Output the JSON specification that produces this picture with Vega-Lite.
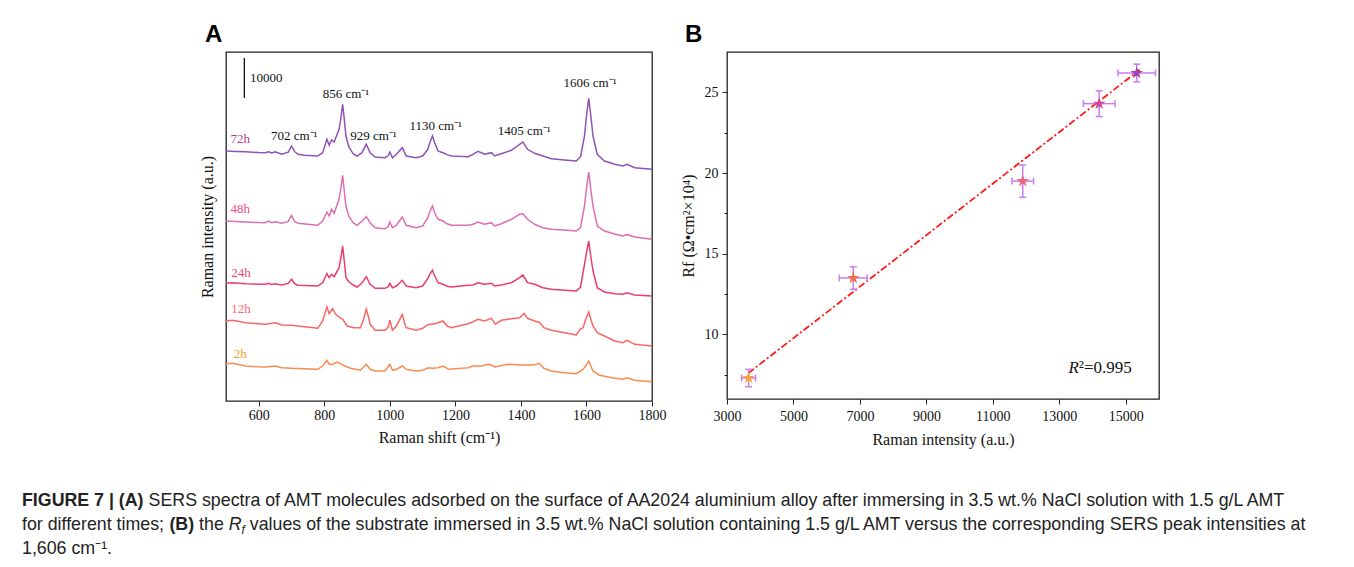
{
  "$schema": "https://vega.github.io/schema/vega-lite/v6.json",
  "padding": {"left": 22, "top": 22, "right": 0, "bottom": 0},
  "background": "white",
  "spacing": 41,
  "config": {
    "view": {"stroke": null},
    "font": "Liberation Serif",
    "axis": {"labelFont": "Liberation Serif", "titleFont": "Liberation Serif", "labelColor": "#111", "titleColor": "#111", "titleFontWeight": "normal", "domainColor": "#222", "tickColor": "#222", "grid": false, "labelFontSize": 14, "titleFontSize": 16, "labelFlush": false}
  },
  "datasets": {
    "spectra": [
      {"t":"72h","x":500,"y":62500},{"t":"72h","x":530,"y":62400},{"t":"72h","x":560,"y":62325},{"t":"72h","x":600,"y":62100},{"t":"72h","x":620,"y":62075},{"t":"72h","x":630,"y":62325},{"t":"72h","x":640,"y":62000},{"t":"72h","x":650,"y":62325},{"t":"72h","x":670,"y":61675},{"t":"72h","x":690,"y":62200},{"t":"72h","x":700,"y":63750},{"t":"72h","x":710,"y":62300},{"t":"72h","x":720,"y":61675},{"t":"72h","x":740,"y":61425},{"t":"72h","x":780,"y":61250},{"t":"72h","x":795,"y":62075},{"t":"72h","x":808,"y":65425},{"t":"72h","x":815,"y":63925},{"t":"72h","x":822,"y":65250},{"t":"72h","x":830,"y":64750},{"t":"72h","x":845,"y":67925},{"t":"72h","x":851,"y":71000},{"t":"72h","x":856,"y":74175},{"t":"72h","x":861,"y":70500},{"t":"72h","x":866,"y":66250},{"t":"72h","x":875,"y":63500},{"t":"72h","x":888,"y":61800},{"t":"72h","x":900,"y":61250},{"t":"72h","x":915,"y":62075},{"t":"72h","x":928,"y":64175},{"t":"72h","x":940,"y":62075},{"t":"72h","x":955,"y":61000},{"t":"72h","x":985,"y":60825},{"t":"72h","x":995,"y":61300},{"t":"72h","x":1000,"y":62250},{"t":"72h","x":1008,"y":60825},{"t":"72h","x":1020,"y":61675},{"t":"72h","x":1038,"y":63325},{"t":"72h","x":1050,"y":61250},{"t":"72h","x":1080,"y":60825},{"t":"72h","x":1100,"y":61250},{"t":"72h","x":1115,"y":62800},{"t":"72h","x":1124,"y":65000},{"t":"72h","x":1130,"y":66250},{"t":"72h","x":1137,"y":64500},{"t":"72h","x":1147,"y":62500},{"t":"72h","x":1162,"y":62075},{"t":"72h","x":1175,"y":61600},{"t":"72h","x":1188,"y":61250},{"t":"72h","x":1239,"y":61075},{"t":"72h","x":1254,"y":61675},{"t":"72h","x":1269,"y":62425},{"t":"72h","x":1289,"y":61675},{"t":"72h","x":1310,"y":62075},{"t":"72h","x":1320,"y":61250},{"t":"72h","x":1340,"y":61825},{"t":"72h","x":1371,"y":62675},{"t":"72h","x":1396,"y":64175},{"t":"72h","x":1406,"y":64750},{"t":"72h","x":1420,"y":62925},{"t":"72h","x":1442,"y":61925},{"t":"72h","x":1467,"y":61250},{"t":"72h","x":1493,"y":60575},{"t":"72h","x":1533,"y":60250},{"t":"72h","x":1569,"y":60000},{"t":"72h","x":1582,"y":61075},{"t":"72h","x":1594,"y":66250},{"t":"72h","x":1601,"y":72000},{"t":"72h","x":1607,"y":75675},{"t":"72h","x":1613,"y":71500},{"t":"72h","x":1620,"y":66250},{"t":"72h","x":1633,"y":61675},{"t":"72h","x":1655,"y":60000},{"t":"72h","x":1686,"y":59175},{"t":"72h","x":1711,"y":58750},{"t":"72h","x":1724,"y":59175},{"t":"72h","x":1747,"y":58325},{"t":"72h","x":1800,"y":57925},

      {"t":"48h","x":500,"y":45000},{"t":"48h","x":530,"y":44900},{"t":"48h","x":560,"y":44750},{"t":"48h","x":600,"y":44600},{"t":"48h","x":620,"y":44575},{"t":"48h","x":630,"y":45000},{"t":"48h","x":640,"y":44600},{"t":"48h","x":650,"y":44825},{"t":"48h","x":670,"y":44425},{"t":"48h","x":690,"y":44900},{"t":"48h","x":700,"y":46425},{"t":"48h","x":710,"y":44800},{"t":"48h","x":720,"y":44425},{"t":"48h","x":780,"y":43925},{"t":"48h","x":795,"y":45000},{"t":"48h","x":808,"y":47250},{"t":"48h","x":815,"y":46250},{"t":"48h","x":822,"y":47925},{"t":"48h","x":830,"y":46925},{"t":"48h","x":845,"y":50425},{"t":"48h","x":851,"y":53500},{"t":"48h","x":856,"y":56425},{"t":"48h","x":861,"y":52500},{"t":"48h","x":866,"y":48750},{"t":"48h","x":875,"y":46200},{"t":"48h","x":888,"y":44500},{"t":"48h","x":900,"y":43925},{"t":"48h","x":915,"y":45000},{"t":"48h","x":928,"y":46075},{"t":"48h","x":940,"y":44575},{"t":"48h","x":955,"y":43325},{"t":"48h","x":985,"y":43075},{"t":"48h","x":995,"y":43600},{"t":"48h","x":1000,"y":44750},{"t":"48h","x":1008,"y":43325},{"t":"48h","x":1020,"y":43925},{"t":"48h","x":1038,"y":46000},{"t":"48h","x":1050,"y":43925},{"t":"48h","x":1080,"y":43325},{"t":"48h","x":1100,"y":43750},{"t":"48h","x":1115,"y":45700},{"t":"48h","x":1124,"y":47800},{"t":"48h","x":1130,"y":48750},{"t":"48h","x":1137,"y":47000},{"t":"48h","x":1147,"y":45425},{"t":"48h","x":1162,"y":45000},{"t":"48h","x":1175,"y":44300},{"t":"48h","x":1188,"y":43925},{"t":"48h","x":1239,"y":43925},{"t":"48h","x":1254,"y":44175},{"t":"48h","x":1269,"y":44750},{"t":"48h","x":1289,"y":44175},{"t":"48h","x":1310,"y":44575},{"t":"48h","x":1320,"y":43750},{"t":"48h","x":1340,"y":44325},{"t":"48h","x":1371,"y":45425},{"t":"48h","x":1396,"y":46675},{"t":"48h","x":1406,"y":46825},{"t":"48h","x":1420,"y":45425},{"t":"48h","x":1442,"y":44175},{"t":"48h","x":1467,"y":43325},{"t":"48h","x":1493,"y":42925},{"t":"48h","x":1533,"y":42750},{"t":"48h","x":1569,"y":42500},{"t":"48h","x":1582,"y":43325},{"t":"48h","x":1594,"y":48750},{"t":"48h","x":1601,"y":53750},{"t":"48h","x":1607,"y":57250},{"t":"48h","x":1613,"y":53000},{"t":"48h","x":1620,"y":48750},{"t":"48h","x":1633,"y":43750},{"t":"48h","x":1655,"y":42500},{"t":"48h","x":1686,"y":41750},{"t":"48h","x":1711,"y":41250},{"t":"48h","x":1724,"y":41625},{"t":"48h","x":1747,"y":41000},{"t":"48h","x":1800,"y":40425},

      {"t":"24h","x":500,"y":29425},{"t":"24h","x":520,"y":29575},{"t":"24h","x":560,"y":29325},{"t":"24h","x":600,"y":29200},{"t":"24h","x":620,"y":29175},{"t":"24h","x":630,"y":29425},{"t":"24h","x":640,"y":29150},{"t":"24h","x":650,"y":29325},{"t":"24h","x":670,"y":29000},{"t":"24h","x":690,"y":29400},{"t":"24h","x":700,"y":30425},{"t":"24h","x":710,"y":29300},{"t":"24h","x":720,"y":28925},{"t":"24h","x":780,"y":28750},{"t":"24h","x":795,"y":29575},{"t":"24h","x":808,"y":31825},{"t":"24h","x":815,"y":30825},{"t":"24h","x":822,"y":31675},{"t":"24h","x":830,"y":31075},{"t":"24h","x":845,"y":33325},{"t":"24h","x":851,"y":36000},{"t":"24h","x":856,"y":38750},{"t":"24h","x":861,"y":35000},{"t":"24h","x":866,"y":30825},{"t":"24h","x":875,"y":29800},{"t":"24h","x":888,"y":29000},{"t":"24h","x":900,"y":28500},{"t":"24h","x":915,"y":29500},{"t":"24h","x":928,"y":31075},{"t":"24h","x":940,"y":29175},{"t":"24h","x":955,"y":28175},{"t":"24h","x":985,"y":28175},{"t":"24h","x":995,"y":28600},{"t":"24h","x":1000,"y":29425},{"t":"24h","x":1008,"y":28325},{"t":"24h","x":1020,"y":28750},{"t":"24h","x":1038,"y":30175},{"t":"24h","x":1050,"y":28750},{"t":"24h","x":1080,"y":28325},{"t":"24h","x":1100,"y":28750},{"t":"24h","x":1115,"y":30500},{"t":"24h","x":1124,"y":32000},{"t":"24h","x":1130,"y":32675},{"t":"24h","x":1137,"y":31300},{"t":"24h","x":1147,"y":29575},{"t":"24h","x":1162,"y":29175},{"t":"24h","x":1175,"y":28700},{"t":"24h","x":1188,"y":28500},{"t":"24h","x":1239,"y":28925},{"t":"24h","x":1254,"y":29000},{"t":"24h","x":1269,"y":29575},{"t":"24h","x":1289,"y":29175},{"t":"24h","x":1310,"y":29425},{"t":"24h","x":1320,"y":28750},{"t":"24h","x":1340,"y":29000},{"t":"24h","x":1371,"y":29575},{"t":"24h","x":1396,"y":30825},{"t":"24h","x":1406,"y":31500},{"t":"24h","x":1420,"y":29575},{"t":"24h","x":1442,"y":29175},{"t":"24h","x":1467,"y":28325},{"t":"24h","x":1493,"y":27925},{"t":"24h","x":1533,"y":27675},{"t":"24h","x":1569,"y":27500},{"t":"24h","x":1582,"y":28500},{"t":"24h","x":1594,"y":34175},{"t":"24h","x":1601,"y":37500},{"t":"24h","x":1607,"y":40000},{"t":"24h","x":1613,"y":36250},{"t":"24h","x":1620,"y":32500},{"t":"24h","x":1633,"y":28325},{"t":"24h","x":1655,"y":27250},{"t":"24h","x":1686,"y":26825},{"t":"24h","x":1711,"y":26675},{"t":"24h","x":1724,"y":27075},{"t":"24h","x":1747,"y":26500},{"t":"24h","x":1800,"y":26250},

      {"t":"12h","x":500,"y":20000},{"t":"12h","x":520,"y":20175},{"t":"12h","x":560,"y":19575},{"t":"12h","x":600,"y":19300},{"t":"12h","x":620,"y":19175},{"t":"12h","x":650,"y":19575},{"t":"12h","x":670,"y":19000},{"t":"12h","x":700,"y":18925},{"t":"12h","x":740,"y":18575},{"t":"12h","x":780,"y":18175},{"t":"12h","x":795,"y":20000},{"t":"12h","x":808,"y":23500},{"t":"12h","x":815,"y":21825},{"t":"12h","x":825,"y":23075},{"t":"12h","x":835,"y":21675},{"t":"12h","x":845,"y":21000},{"t":"12h","x":856,"y":20425},{"t":"12h","x":870,"y":18750},{"t":"12h","x":890,"y":18325},{"t":"12h","x":910,"y":18325},{"t":"12h","x":920,"y":20425},{"t":"12h","x":928,"y":22925},{"t":"12h","x":935,"y":21000},{"t":"12h","x":940,"y":19175},{"t":"12h","x":955,"y":17675},{"t":"12h","x":985,"y":17675},{"t":"12h","x":995,"y":18500},{"t":"12h","x":1000,"y":20175},{"t":"12h","x":1008,"y":17675},{"t":"12h","x":1020,"y":18750},{"t":"12h","x":1038,"y":21675},{"t":"12h","x":1045,"y":19500},{"t":"12h","x":1050,"y":18325},{"t":"12h","x":1080,"y":17675},{"t":"12h","x":1100,"y":18175},{"t":"12h","x":1118,"y":19175},{"t":"12h","x":1130,"y":19175},{"t":"12h","x":1147,"y":19575},{"t":"12h","x":1162,"y":20000},{"t":"12h","x":1175,"y":18750},{"t":"12h","x":1188,"y":18325},{"t":"12h","x":1239,"y":19325},{"t":"12h","x":1254,"y":19825},{"t":"12h","x":1269,"y":20425},{"t":"12h","x":1289,"y":20000},{"t":"12h","x":1310,"y":20675},{"t":"12h","x":1322,"y":19175},{"t":"12h","x":1340,"y":20175},{"t":"12h","x":1371,"y":20575},{"t":"12h","x":1396,"y":20825},{"t":"12h","x":1410,"y":21925},{"t":"12h","x":1420,"y":20675},{"t":"12h","x":1442,"y":20000},{"t":"12h","x":1458,"y":19575},{"t":"12h","x":1470,"y":18325},{"t":"12h","x":1493,"y":17675},{"t":"12h","x":1533,"y":17075},{"t":"12h","x":1569,"y":16500},{"t":"12h","x":1580,"y":17925},{"t":"12h","x":1590,"y":18325},{"t":"12h","x":1597,"y":20250},{"t":"12h","x":1607,"y":22250},{"t":"12h","x":1615,"y":20000},{"t":"12h","x":1620,"y":18750},{"t":"12h","x":1633,"y":17075},{"t":"12h","x":1655,"y":16250},{"t":"12h","x":1686,"y":15000},{"t":"12h","x":1711,"y":14575},{"t":"12h","x":1724,"y":15175},{"t":"12h","x":1747,"y":14175},{"t":"12h","x":1800,"y":13750},

      {"t":"2h","x":500,"y":9325},{"t":"2h","x":520,"y":9425},{"t":"2h","x":560,"y":8750},{"t":"2h","x":600,"y":8550},{"t":"2h","x":620,"y":8500},{"t":"2h","x":650,"y":8750},{"t":"2h","x":670,"y":8325},{"t":"2h","x":700,"y":8175},{"t":"2h","x":780,"y":7925},{"t":"2h","x":795,"y":8750},{"t":"2h","x":808,"y":10175},{"t":"2h","x":815,"y":9175},{"t":"2h","x":825,"y":9175},{"t":"2h","x":840,"y":9750},{"t":"2h","x":856,"y":9000},{"t":"2h","x":880,"y":8175},{"t":"2h","x":910,"y":7675},{"t":"2h","x":928,"y":9175},{"t":"2h","x":940,"y":7925},{"t":"2h","x":955,"y":7500},{"t":"2h","x":985,"y":7500},{"t":"2h","x":1000,"y":9175},{"t":"2h","x":1008,"y":7675},{"t":"2h","x":1020,"y":7925},{"t":"2h","x":1038,"y":8750},{"t":"2h","x":1050,"y":7925},{"t":"2h","x":1080,"y":7500},{"t":"2h","x":1100,"y":7675},{"t":"2h","x":1118,"y":8325},{"t":"2h","x":1130,"y":8175},{"t":"2h","x":1147,"y":8325},{"t":"2h","x":1162,"y":8750},{"t":"2h","x":1180,"y":7925},{"t":"2h","x":1239,"y":8325},{"t":"2h","x":1254,"y":8750},{"t":"2h","x":1280,"y":8750},{"t":"2h","x":1300,"y":9175},{"t":"2h","x":1310,"y":8925},{"t":"2h","x":1320,"y":8500},{"t":"2h","x":1360,"y":9175},{"t":"2h","x":1400,"y":9000},{"t":"2h","x":1440,"y":9000},{"t":"2h","x":1455,"y":9425},{"t":"2h","x":1470,"y":8175},{"t":"2h","x":1493,"y":7500},{"t":"2h","x":1533,"y":7075},{"t":"2h","x":1569,"y":6825},{"t":"2h","x":1590,"y":7925},{"t":"2h","x":1607,"y":10000},{"t":"2h","x":1620,"y":7500},{"t":"2h","x":1640,"y":6425},{"t":"2h","x":1686,"y":5675},{"t":"2h","x":1711,"y":5425},{"t":"2h","x":1724,"y":5825},{"t":"2h","x":1747,"y":5175},{"t":"2h","x":1800,"y":4825}
    ],
    "peaks": [
      {"x":708,"y":66250,"s":"702 cm⁻¹"},{"x":866,"y":76825,"s":"856 cm⁻¹"},{"x":950,"y":66250,"s":"929 cm⁻¹"},{"x":1140,"y":68750,"s":"1130 cm⁻¹"},{"x":1410,"y":67500,"s":"1405 cm⁻¹"},{"x":1611,"y":79425,"s":"1606 cm⁻¹"}
    ],
    "times": [
      {"t":"72h","x":514,"y":65500},{"t":"48h","x":514,"y":48000},{"t":"24h","x":516,"y":32000},{"t":"12h","x":516,"y":23000},{"t":"2h","x":524,"y":11750}
    ],
    "bar": [{"x":556,"y1":75750,"y2":85750,"lx":573,"ly":80750,"s":"10000"}],
    "rf": [
      {"t":"2h","x":3650,"y":7.3,"xlo":3440,"xhi":3860,"ylo":6.76,"yhi":7.84},
      {"t":"12h","x":6800,"y":13.5,"xlo":6380,"xhi":7220,"ylo":12.8,"yhi":14.2},
      {"t":"24h","x":11900,"y":19.5,"xlo":11575,"xhi":12225,"ylo":18.5,"yhi":20.5},
      {"t":"48h","x":14200,"y":24.3,"xlo":13725,"xhi":14675,"ylo":23.5,"yhi":25.1},
      {"t":"72h","x":15330,"y":26.2,"xlo":14765,"xhi":15895,"ylo":25.65,"yhi":26.75}
    ],
    "fit": [{"x":3640,"y":7.6},{"x":15420,"y":26.4}],
    "r2": [{"x":13586,"y":7.9}]
  },
  "vconcat": [
    {
      "hconcat": [
        {"width": 129, "height": 349, "view": {"fill": "#ffffff", "stroke": null}, "data": {"values": []}, "mark": "point", "encoding": {}},
        {
          "width": 426, "height": 349,
          "view": {"stroke": "#222", "strokeWidth": 1.3},
          "title": {"text": "A", "anchor": "start", "frame": "group", "dx": -21, "offset": -19, "baseline": "bottom", "font": "Liberation Sans", "fontSize": 24, "fontWeight": "bold", "color": "#000"},
          "resolve": {"scale": {"color": "independent"}},
          "layer": [
            {
              "data": {"name": "spectra"},
              "mark": {"type": "line", "strokeWidth": 1.5},
              "encoding": {
                "x": {"field": "x", "type": "quantitative", "scale": {"domain": [500, 1800], "nice": false, "zero": false}, "axis": {"values": [600, 800, 1000, 1200, 1400, 1600, 1800], "format": "d", "title": "Raman shift (cm⁻¹)", "tickSize": 5, "labelPadding": 2, "titlePadding": 7, "domain": false}},
                "y": {"field": "y", "type": "quantitative", "scale": {"domain": [0, 87250], "nice": false, "zero": false}, "axis": {"title": "Raman intensity (a.u.)", "ticks": false, "tickSize": 0, "labels": false, "domain": false, "titlePadding": 11}},
                "color": {"field": "t", "type": "nominal", "scale": {"domain": ["72h", "48h", "24h", "12h", "2h"], "range": ["#9152b5", "#dc6eb4", "#eb3c6e", "#fa6666", "#fa8c50"]}, "legend": null}
              }
            },
            {
              "data": {"name": "times"},
              "mark": {"type": "text", "align": "left", "baseline": "middle", "fontSize": 13, "font": "Liberation Serif"},
              "encoding": {
                "x": {"field": "x", "type": "quantitative"},
                "y": {"field": "y", "type": "quantitative"},
                "text": {"field": "t"},
                "color": {"field": "t", "type": "nominal", "scale": {"domain": ["72h", "48h", "24h", "12h", "2h"], "range": ["#b8388e", "#ec4a8a", "#e8457a", "#f86a6a", "#f5a030"]}, "legend": null}
              }
            },
            {
              "data": {"name": "peaks"},
              "mark": {"type": "text", "align": "center", "baseline": "middle", "fontSize": 13, "font": "Liberation Serif", "color": "#111"},
              "encoding": {
                "x": {"field": "x", "type": "quantitative"},
                "y": {"field": "y", "type": "quantitative"},
                "text": {"field": "s"}
              }
            },
            {
              "data": {"name": "bar"},
              "mark": {"type": "rule", "color": "#111", "strokeWidth": 1.3},
              "encoding": {
                "x": {"field": "x", "type": "quantitative"},
                "y": {"field": "y1", "type": "quantitative"},
                "y2": {"field": "y2"}
              }
            },
            {
              "data": {"name": "bar"},
              "mark": {"type": "text", "align": "left", "baseline": "middle", "fontSize": 13, "font": "Liberation Serif", "color": "#111"},
              "encoding": {
                "x": {"field": "lx", "type": "quantitative"},
                "y": {"field": "ly", "type": "quantitative"},
                "text": {"field": "s"}
              }
            }
          ]
        },
        {
          "width": 432, "height": 347,
          "view": {"stroke": "#222", "strokeWidth": 1.3},
          "title": {"text": "B", "anchor": "start", "frame": "group", "dx": -42, "offset": -19, "baseline": "bottom", "font": "Liberation Sans", "fontSize": 24, "fontWeight": "bold", "color": "#000"},
          "layer": [
            {
              "data": {"name": "fit"},
              "mark": {"type": "line", "color": "#ff1a1a", "strokeWidth": 1.8, "strokeDash": [7, 2.5, 2, 2.5]},
              "encoding": {
                "x": {"field": "x", "type": "quantitative", "scale": {"domain": [3000, 16000], "nice": false, "zero": false}, "axis": {"title": "Raman intensity (a.u.)", "values": [3000, 4000, 5000, 6000, 7000, 8000, 9000, 10000, 11000, 12000, 13000, 14000, 15000, 16000], "labelExpr": "datum.value % 2000 == 1000 ? datum.label : ''", "format": "d", "tickSize": {"condition": {"test": "datum.value % 2000 == 0", "value": 3}, "value": 5}, "labelPadding": 5, "titlePadding": 8, "domain": false}},
                "y": {"field": "y", "type": "quantitative", "scale": {"domain": [6, 27.5], "nice": false, "zero": false}, "axis": {"title": "Rf (Ω•cm²×10⁴)", "values": [7.5, 10, 12.5, 15, 17.5, 20, 22.5, 25], "labelExpr": "datum.value % 5 == 0 ? datum.label : ''", "tickSize": {"condition": {"test": "datum.value % 5 != 0", "value": 3}, "value": 5}, "labelPadding": 4, "titlePadding": 8, "domain": false}}
              }
            },
            {
              "data": {"name": "rf"},
              "mark": {"type": "rule", "color": "#c97ef2", "strokeWidth": 1.5},
              "encoding": {"x": {"field": "xlo", "type": "quantitative"}, "x2": {"field": "xhi"}, "y": {"field": "y", "type": "quantitative"}}
            },
            {
              "data": {"name": "rf"},
              "mark": {"type": "rule", "color": "#c97ef2", "strokeWidth": 1.5},
              "encoding": {"x": {"field": "x", "type": "quantitative"}, "y": {"field": "ylo", "type": "quantitative"}, "y2": {"field": "yhi"}}
            },
            {
              "data": {"name": "rf"},
              "mark": {"type": "tick", "orient": "vertical", "size": 7, "thickness": 1.5, "color": "#c97ef2", "opacity": 1},
              "encoding": {"x": {"field": "xlo", "type": "quantitative"}, "y": {"field": "y", "type": "quantitative"}}
            },
            {
              "data": {"name": "rf"},
              "mark": {"type": "tick", "orient": "vertical", "size": 7, "thickness": 1.5, "color": "#c97ef2", "opacity": 1},
              "encoding": {"x": {"field": "xhi", "type": "quantitative"}, "y": {"field": "y", "type": "quantitative"}}
            },
            {
              "data": {"name": "rf"},
              "mark": {"type": "tick", "orient": "horizontal", "size": 7, "thickness": 1.5, "color": "#c97ef2", "opacity": 1},
              "encoding": {"x": {"field": "x", "type": "quantitative"}, "y": {"field": "ylo", "type": "quantitative"}}
            },
            {
              "data": {"name": "rf"},
              "mark": {"type": "tick", "orient": "horizontal", "size": 7, "thickness": 1.5, "color": "#c97ef2", "opacity": 1},
              "encoding": {"x": {"field": "x", "type": "quantitative"}, "y": {"field": "yhi", "type": "quantitative"}}
            },
            {
              "data": {"name": "rf"},
              "mark": {"type": "point", "filled": true, "opacity": 1, "size": 170, "strokeWidth": 0.8, "shape": "M0,-1L0.2245,-0.309L0.951,-0.309L0.363,0.118L0.588,0.809L0,0.382L-0.588,0.809L-0.363,0.118L-0.951,-0.309L-0.2245,-0.309Z"},
              "encoding": {
                "x": {"field": "x", "type": "quantitative"},
                "y": {"field": "y", "type": "quantitative"},
                "color": {"field": "t", "type": "nominal", "scale": {"domain": ["2h", "12h", "24h", "48h", "72h"], "range": ["#f7a440", "#f27245", "#ef6486", "#d2459a", "#9b44b0"]}, "legend": null}
              }
            },
            {
              "data": {"name": "r2"},
              "mark": {"type": "text", "align": "right", "baseline": "middle", "fontSize": 17, "fontStyle": "italic", "font": "Liberation Serif", "color": "#111"},
              "encoding": {"x": {"field": "x", "type": "quantitative"}, "y": {"field": "y", "type": "quantitative"}, "text": {"value": "R"}}
            },
            {
              "data": {"name": "r2"},
              "mark": {"type": "text", "align": "left", "baseline": "middle", "fontSize": 17, "font": "Liberation Serif", "color": "#111"},
              "encoding": {"x": {"field": "x", "type": "quantitative"}, "y": {"field": "y", "type": "quantitative"}, "text": {"value": "²=0.995"}}
            }
          ]
        }
      ],
      "spacing": 75,
      "bounds": "flush"
    },
    {
      "width": 1330, "height": 72,
      "view": {"fill": "#ffffff", "stroke": null},
      "encoding": {
        "x": {"datum": 0, "type": "quantitative", "scale": {"domain": [0, 1]}, "axis": null},
        "y": {"field": "line", "type": "ordinal", "scale": {"type": "point", "padding": 0.5, "domain": [1, 2, 3]}, "axis": null},
        "text": {"field": "s"}
      },
      "layer": [
        {"data": {"values": [{"line": 1, "s": "FIGURE 7 | (A)"}]}, "mark": {"type": "text", "align": "left", "baseline": "middle", "font": "Liberation Sans", "fontSize": 17.8, "fontWeight": "bold", "color": "#222"}},
        {"data": {"values": [{"line": 1, "s": "SERS spectra of AMT molecules adsorbed on the surface of AA2024 aluminium alloy after immersing in 3.5 wt.% NaCl solution with 1.5 g/L AMT"}]}, "mark": {"type": "text", "align": "left", "baseline": "middle", "font": "Liberation Sans", "fontSize": 17.8, "color": "#222", "dx": 126.6}},
        {"data": {"values": [{"line": 2, "s": "for different times;"}]}, "mark": {"type": "text", "align": "left", "baseline": "middle", "font": "Liberation Sans", "fontSize": 17.8, "color": "#222"}},
        {"data": {"values": [{"line": 2, "s": "(B)"}]}, "mark": {"type": "text", "align": "left", "baseline": "middle", "font": "Liberation Sans", "fontSize": 17.8, "fontWeight": "bold", "color": "#222", "dx": 147.4}},
        {"data": {"values": [{"line": 2, "s": "the"}]}, "mark": {"type": "text", "align": "left", "baseline": "middle", "font": "Liberation Sans", "fontSize": 17.8, "color": "#222", "dx": 177.1}},
        {"data": {"values": [{"line": 2, "s": "R"}]}, "mark": {"type": "text", "align": "left", "baseline": "middle", "font": "Liberation Sans", "fontSize": 17.8, "fontStyle": "italic", "color": "#222", "dx": 206.8}},
        {"data": {"values": [{"line": 2, "s": "f"}]}, "mark": {"type": "text", "align": "left", "baseline": "middle", "font": "Liberation Sans", "fontSize": 12, "fontStyle": "italic", "color": "#222", "dx": 219.5, "dy": 5}},
        {"data": {"values": [{"line": 2, "s": "values of the substrate immersed in 3.5 wt.% NaCl solution containing 1.5 g/L AMT versus the corresponding SERS peak intensities at"}]}, "mark": {"type": "text", "align": "left", "baseline": "middle", "font": "Liberation Sans", "fontSize": 17.8, "color": "#222", "dx": 227.8}},
        {"data": {"values": [{"line": 3, "s": "1,606 cm⁻¹."}]}, "mark": {"type": "text", "align": "left", "baseline": "middle", "font": "Liberation Sans", "fontSize": 17.8, "color": "#222"}}
      ]
    }
  ]
}
